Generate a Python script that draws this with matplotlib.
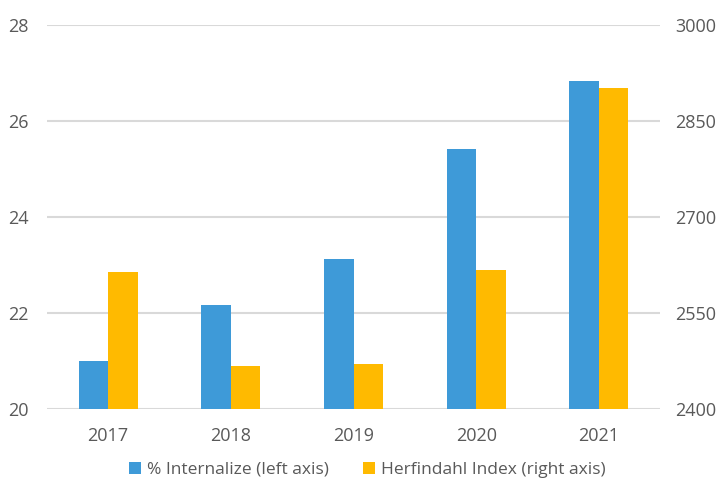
import matplotlib.pyplot as plt
import numpy as np

years = ['2017', '2018', '2019', '2020', '2021']
internalize = [20.99, 22.17, 23.11, 25.41, 26.83]
herfindahl = [2614, 2467, 2469, 2617, 2902]

blue = '#3E9AD8'
gold = '#FFBA00'
txt = '#595959'

plt.rcParams['font.family'] = ['Open Sans', 'DejaVu Sans']

fig = plt.figure(figsize=(7.2, 4.79), dpi=100)
ax = fig.add_axes([0.065, 0.147, 0.852, 0.801])
ax2 = ax.twinx()

x = np.arange(len(years))
w = 0.24
b1 = ax.bar(x - w / 2, np.array(internalize) - 20, w, bottom=20, color=blue, zorder=3,
            label='% Internalize (left axis)')
b2 = ax2.bar(x + w / 2, np.array(herfindahl) - 2400, w, bottom=2400, color=gold, zorder=3,
             label='Herfindahl Index (right axis)')

ax.set_xlim(-0.5, len(years) - 0.5)
ax.set_ylim(20, 28)
ax.set_yticks([20, 22, 24, 26, 28])
ax2.set_ylim(2400, 3000)
ax2.set_yticks([2400, 2550, 2700, 2850, 3000])
ax.set_xticks(x)
ax.set_xticklabels(years)

ax.grid(axis='y', color='#d9d9d9', linewidth=1.5, zorder=0)
ax.set_axisbelow(True)
for a in (ax, ax2):
    for s in a.spines.values():
        s.set_visible(False)
    a.tick_params(length=0, labelsize=13, colors=txt)
ax.tick_params(axis='y', pad=13)
ax2.tick_params(axis='y', pad=11)
ax.tick_params(axis='x', pad=13)

fig.legend(handles=[b1, b2], loc='lower center', bbox_to_anchor=(0.51, -0.03), ncol=2,
           frameon=False, fontsize=12.5, labelcolor=txt, handlelength=0.7,
           handleheight=0.7, handletextpad=0.3, columnspacing=2.0)

fig.savefig('out.png', dpi=100)
